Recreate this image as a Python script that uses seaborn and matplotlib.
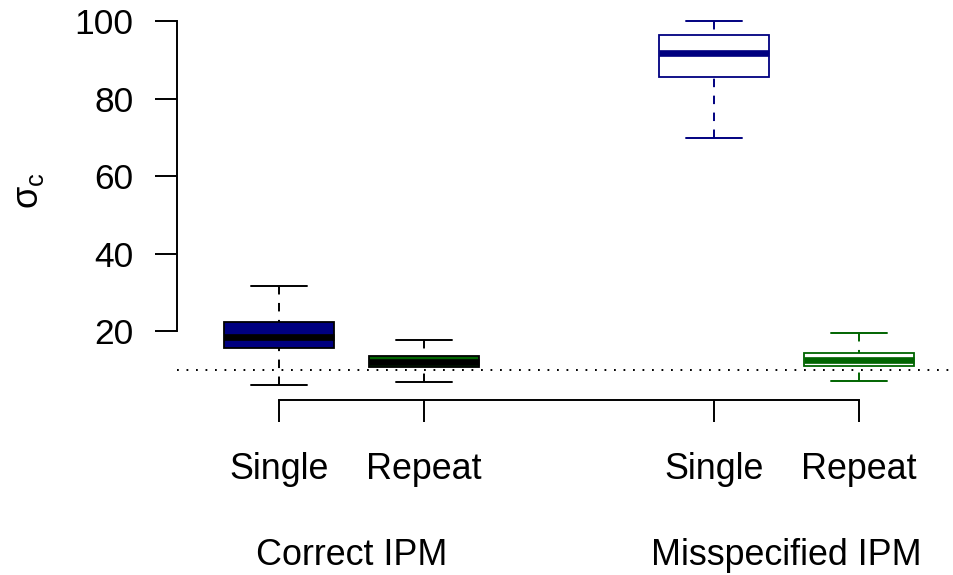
import matplotlib
matplotlib.use("Agg")
import matplotlib.pyplot as plt
import matplotlib.transforms as mtransforms
import pandas as pd
import seaborn as sns

# Five-number summaries of sigma_c for each model / design combination
models = ["Correct IPM", "Correct IPM", "Misspecified IPM", "Misspecified IPM"]
designs = ["Single", "Repeat", "Single", "Repeat"]
positions = [1, 2, 4, 5]
whisker_low = [6.1, 6.8, 69.9, 7.1]
q1 = [15.7, 10.7, 85.6, 10.9]
median = [18.4, 11.9, 91.8, 12.6]
q3 = [22.2, 13.5, 96.4, 14.3]
whisker_high = [31.6, 17.7, 100.0, 19.4]
true_sigma = 10

group_labels = ["Correct IPM", "Misspecified IPM"]
group_centers = [1.5, 4.5]
yticks = [20, 40, 60, 80, 100]

fills = ["#000080", "#006400", "white", "white"]
edges = ["black", "black", "#000080", "#006400"]

rows = []
for i, pos in enumerate(positions):
    for v in (whisker_low[i], q1[i], median[i], q3[i], whisker_high[i]):
        rows.append({"box": i, "model": models[i], "design": designs[i],
                     "position": pos, "sigma": v})
df = pd.DataFrame(rows)

sns.set_theme(style="white")
plt.rcParams["font.family"] = ["Liberation Sans", "DejaVu Sans"]
plt.rcParams["mathtext.fontset"] = "custom"
plt.rcParams["mathtext.rm"] = "Liberation Sans"
plt.rcParams["mathtext.it"] = "Liberation Sans"
plt.rcParams["lines.scale_dashes"] = False

W, H = 954, 575
fig = plt.figure(figsize=(W / 100, H / 100), dpi=100)
ax = fig.add_axes([177.5 / W, (H - 399.6) / H, 783 / W, 393.3 / H])

LW = 1.3
for i in range(len(positions)):
    sub = df[df["box"] == i]
    sns.boxplot(
        data=sub, x="position", y="sigma", native_scale=True,
        whis=(0, 100), width=0.76, color=fills[i], linecolor=edges[i],
        saturation=1, linewidth=LW, fliersize=0, ax=ax,
        medianprops=dict(linewidth=4.8, color=edges[i], solid_capstyle="butt"),
        whiskerprops=dict(linestyle=(0, (6.1, 6.1)), color=edges[i],
                          linewidth=1.4),
        capprops=dict(linestyle="-", color=edges[i], linewidth=1.4),
    )

# dashed whiskers start their pattern at the staple end
for line in ax.lines:
    if line.get_linestyle() == "--":
        y = line.get_ydata()
        line.set_ydata(list(y)[::-1])

# reference level of sigma_c
ax.axhline(true_sigma, color="black", linewidth=1.4,
           linestyle=(0, (1.3, 5.54)), zorder=5)

ax.set_xlim(0.3, 5.7)
ax.set_ylim(2.3, 103.8)

sns.despine(ax=ax, top=True, right=True)
for side in ("left", "bottom"):
    ax.spines[side].set_color("black")
    ax.spines[side].set_linewidth(1.4)
ax.spines["left"].set_bounds(20, 100)
ax.spines["bottom"].set_bounds(1, 5)

ax.set_xticks(positions)
ax.set_xticklabels(designs)
ax.set_yticks(yticks)
ax.set_yticklabels([str(t) for t in yticks])
ax.tick_params(axis="both", direction="out", length=15.8, width=1.4,
               color="black", labelsize=25.5, labelcolor="black",
               bottom=True, left=True)
ax.tick_params(axis="x", pad=22, labelsize=25.8)
ax.tick_params(axis="y", pad=16)

ax.set_xlabel("")
ax.set_ylabel(r"$\sigma_c$", fontsize=26, color="black")
ax.yaxis.set_label_coords(-0.168, 0.532)

trans = mtransforms.blended_transform_factory(ax.transData, ax.transAxes)
for label, cx in zip(group_labels, group_centers):
    ax.text(cx, -0.4206, label, transform=trans, ha="center", va="baseline",
            fontsize=25.8, color="black", clip_on=False)

ax.set_facecolor("white")
fig.patch.set_facecolor("white")
fig.savefig("out.png", dpi=100)
